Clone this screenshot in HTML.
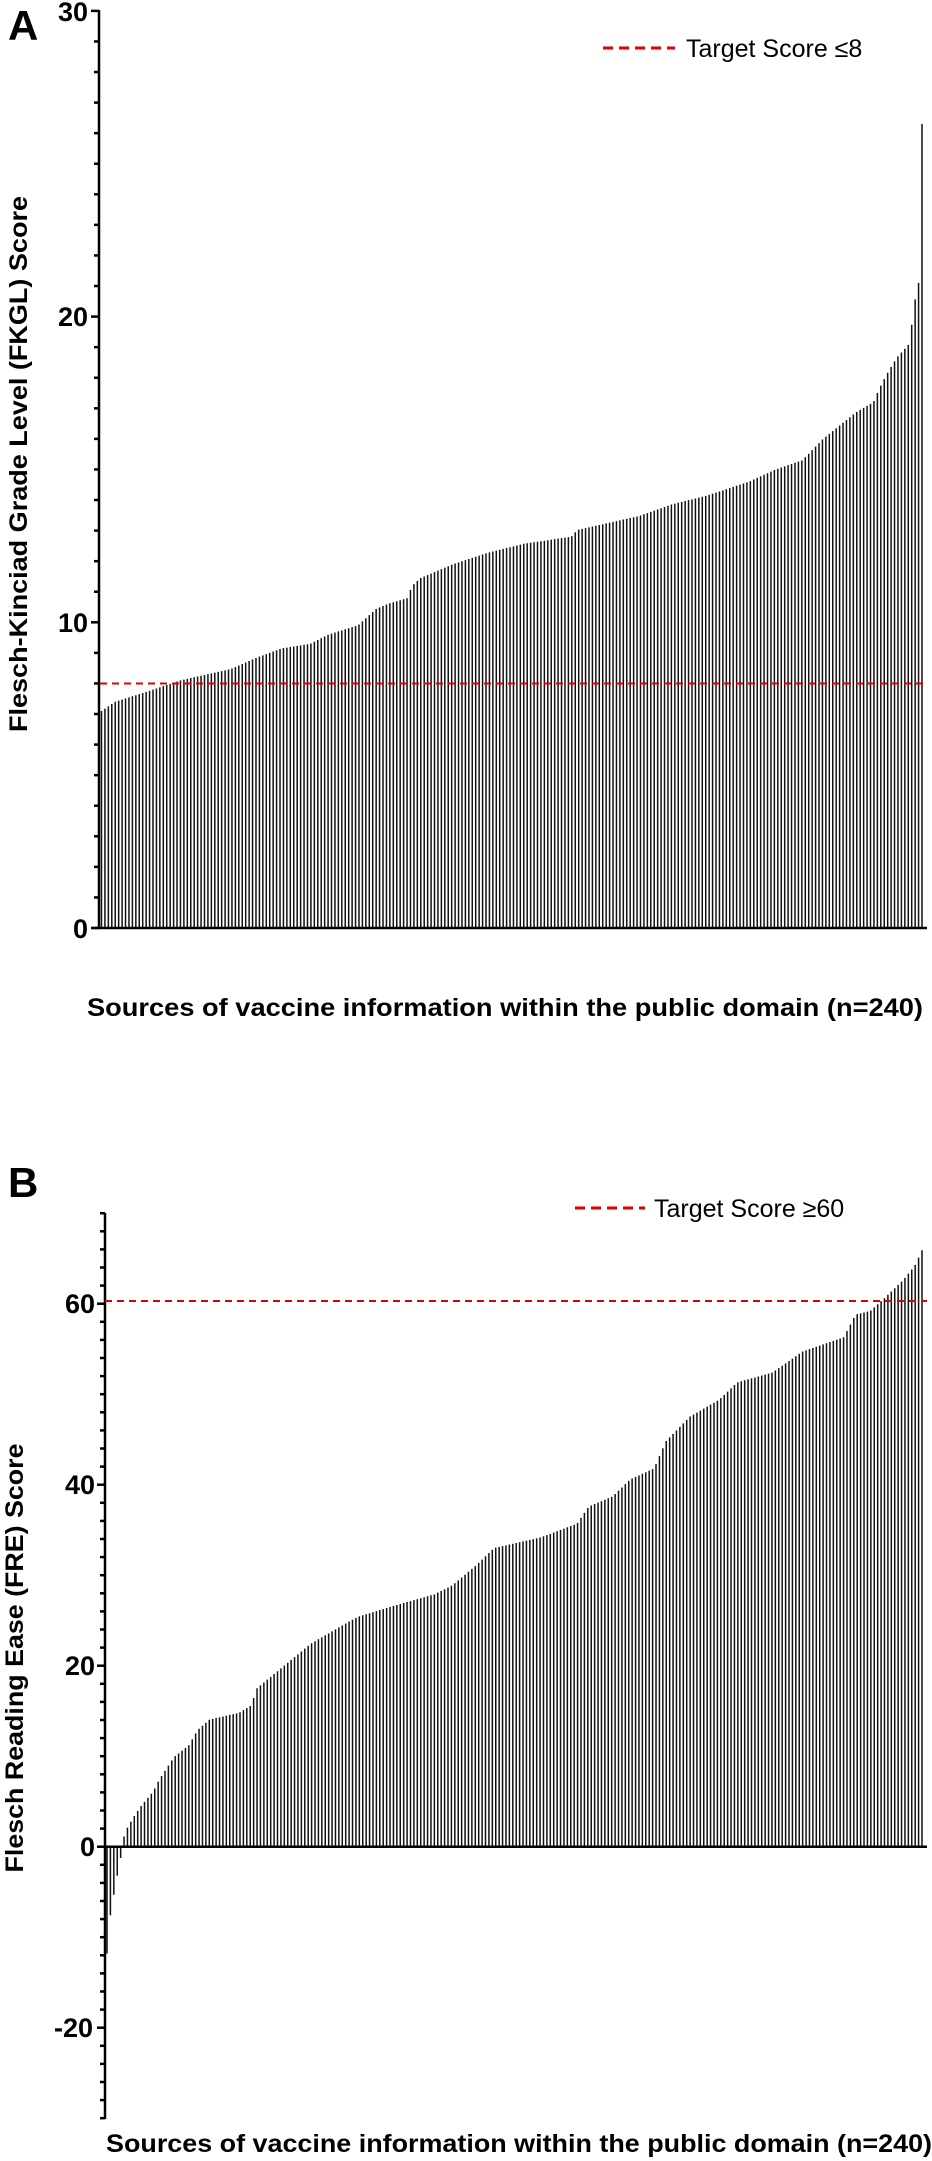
<!DOCTYPE html>
<html><head><meta charset="utf-8"><style>
html,body{margin:0;padding:0;background:#fff;}
svg{display:block;font-family:"Liberation Sans",Arial,sans-serif;}
</style></head><body>
<svg id="s" width="932" height="2161" viewBox="0 0 932 2161" xmlns="http://www.w3.org/2000/svg">
<text x="8" y="40" font-size="42" font-weight="bold">A</text>
<text x="8" y="1197" font-size="42" font-weight="bold">B</text>
<g id="barsA" stroke="#111" stroke-width="1.5"></g>
<g id="barsB" stroke="#111" stroke-width="1.5"></g>
<g id="axes" stroke="#000" stroke-width="2.5" fill="none"></g>
<g font-size="27" font-weight="bold" text-anchor="end">
<text x="88" y="21">30</text>
<text x="88" y="326">20</text>
<text x="88" y="632">10</text>
<text x="88" y="938">0</text>
<text x="95" y="1313">60</text>
<text x="95" y="1494">40</text>
<text x="95" y="1675">20</text>
<text x="95" y="1856">0</text>
<text x="93" y="2037">-20</text>
</g>
<line x1="100" y1="683.5" x2="927" y2="683.5" stroke="#e00000" stroke-width="2" stroke-dasharray="7,5"/>
<line x1="105" y1="1301" x2="927" y2="1301" stroke="#e00000" stroke-width="2" stroke-dasharray="7,5"/>
<line x1="603" y1="48" x2="675" y2="48" stroke="#e00000" stroke-width="3" stroke-dasharray="10,6"/>
<line x1="575" y1="1208" x2="645" y2="1208" stroke="#e00000" stroke-width="3" stroke-dasharray="10,6"/>
<text x="686" y="57" font-size="25">Target Score ≤8</text>
<text x="654" y="1217" font-size="25">Target Score ≥60</text>
<text x="505" y="1016" font-size="25" font-weight="bold" text-anchor="middle" textLength="836" lengthAdjust="spacingAndGlyphs">Sources of vaccine information within the public domain (n=240)</text>
<text x="519" y="2152" font-size="25" font-weight="bold" text-anchor="middle" textLength="826" lengthAdjust="spacingAndGlyphs">Sources of vaccine information within the public domain (n=240)</text>
<text transform="translate(27,464) rotate(-90)" font-size="25" font-weight="bold" text-anchor="middle" textLength="536" lengthAdjust="spacingAndGlyphs">Flesch-Kinciad Grade Level (FKGL) Score</text>
<text transform="translate(23,1658) rotate(-90)" font-size="25" font-weight="bold" text-anchor="middle" textLength="429" lengthAdjust="spacingAndGlyphs">Flesch Reading Ease (FRE) Score</text>
</svg>
<script>
(function(){
var NS="http://www.w3.org/2000/svg";
function L(g,x1,y1,x2,y2){var l=document.createElementNS(NS,"line");l.setAttribute("x1",x1);l.setAttribute("y1",y1);l.setAttribute("x2",x2);l.setAttribute("y2",y2);g.appendChild(l);}
function interp(pts,px){for(var i=0;i<pts.length-1;i++){if(px<=pts[i+1][0]){var a=pts[i],b=pts[i+1];return a[1]+(b[1]-a[1])*(px-a[0])/(b[0]-a[0]);}}return pts[pts.length-1][1];}
var A=[[167,7.1],[190,7.4],[250,7.77],[300,8.1],[385,8.47],[430,8.85],[470,9.14],[520,9.3],[550,9.6],[600,9.9],[630,10.43],[650,10.6],[685,10.8],[690,11.17],[705,11.44],[760,11.9],[820,12.28],[880,12.57],[960,12.8],[970,13.02],[1075,13.48],[1130,13.86],[1190,14.15],[1260,14.6],[1305,15.0],[1350,15.3],[1385,16.0],[1440,16.86],[1470,17.2],[1480,17.65],[1495,18.2],[1510,18.67],[1530,19.1],[1538,20.2],[1544,21.1],[1548,21.1],[1552,26.3]];
var B=[[177,-11.8],[183,-7.4],[193,-3.6],[199,-1.7],[205,1.0],[211,2.05],[222,3.3],[235,4.55],[255,6.1],[265,7.4],[290,9.9],[315,11.2],[330,12.9],[350,14.05],[400,14.8],[420,15.6],[430,17.5],[450,18.6],[500,21.3],[520,22.4],[570,24.3],[600,25.4],[660,26.6],[730,27.9],[760,28.9],[800,31.1],[830,33.0],[910,34.2],[970,35.7],[990,37.6],[1030,38.7],[1060,40.6],[1100,41.8],[1120,44.8],[1160,47.5],[1210,49.4],[1240,51.3],[1300,52.4],[1350,54.7],[1420,56.3],[1440,58.8],[1465,59.2],[1490,60.7],[1520,62.6],[1540,64.2],[1552,65.9]];
var gA=document.getElementById("barsA"),gB=document.getElementById("barsB"),ax=document.getElementById("axes");
for(var i=0;i<240;i++){
 var pa=167+i*(1552-167)/239, v=interp(A,pa), x=101.5+i*(922-101.5)/239;
 L(gA,x,928,x,928-v*30.57);
 var pb=177+i*(1552-177)/239, w=interp(B,pb), xb=107+i*(922-107)/239;
 L(gB,xb,1846.7,xb,1846.7-w*9.05);
}
L(ax,99,10,99,929);L(ax,92,928,927,928);
for(var k=0;k<=30;k++){var y=928-k*30.57;L(ax,k%10==0?91:94,y,99,y);}
L(ax,105,1213,105,2119);L(ax,97,1846.7,927,1846.7);
for(var k=-30;k<=70;k+=2){var y=1846.7-k*9.05;L(ax,k%20==0?97:100,y,105,y);}
})();
</script>
</body></html>
